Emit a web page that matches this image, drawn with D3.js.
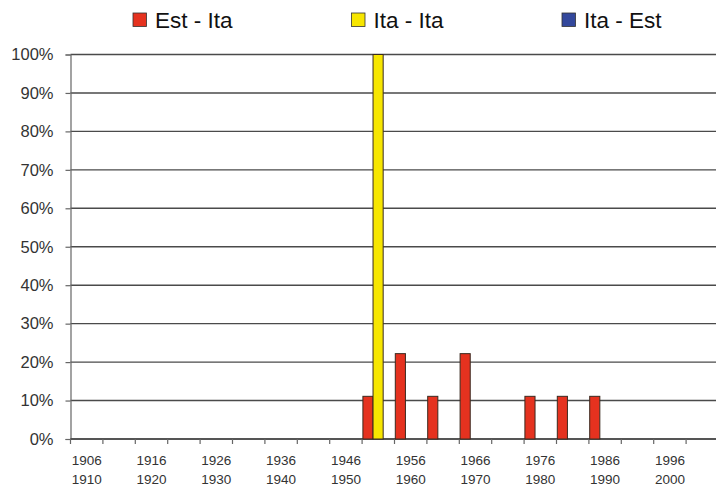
<!DOCTYPE html>
<html>
<head>
<meta charset="utf-8">
<script src="https://cdn.jsdelivr.net/npm/d3@7"></script>
<style>
  html, body { margin: 0; padding: 0; background: #fff; }
  svg { display: block; }
  text { font-family: "Liberation Sans", Arial, sans-serif; }
</style>
</head>
<body>
<script>
// ---- data ----
const startYears = [1906,1911,1916,1921,1926,1931,1936,1941,1946,1951,1956,1961,1966,1971,1976,1981,1986,1991,1996,2001];
const endYears   = [1910,1915,1920,1925,1930,1935,1940,1945,1950,1955,1960,1965,1970,1975,1980,1985,1990,1995,2000,2005];
const categories = startYears.map((s, i) => s + "-" + endYears[i]);
const seriesNames = ["Est - Ita", "Ita - Ita", "Ita - Est"];
const estIta = [0,0,0,0,0,0,0,0,0,11.1,22.2,11.1,22.2,0,11.1,11.1,11.1,0,0,0];
const itaIta = [0,0,0,0,0,0,0,0,0,100,0,0,0,0,0,0,0,0,0,0];
const itaEst = [0,0,0,0,0,0,0,0,0,0,0,0,0,0,0,0,0,0,0,0];
const yTicks = [0,10,20,30,40,50,60,70,80,90,100];
const colors = ["#e5321f", "#f7e600", "#33489c"];

const W = 716, H = 487;
const svg = d3.select("body").append("svg").attr("width", W).attr("height", H);

const x0 = 70.5, x1 = 718.5, yTop = 54.5, yBot = 439;
const x = d3.scaleBand().domain(categories).range([x0, x1]).paddingInner(0).paddingOuter(0);
const xs = d3.scaleBand().domain(seriesNames).range([0.8, x.bandwidth() - 1.2]).padding(0);
const y = d3.scaleLinear().domain([0, 100]).range([yBot, yTop]);

// gridlines
svg.append("g").selectAll("line").data(yTicks).join("line")
  .attr("x1", x0).attr("x2", W)
  .attr("y1", d => y(d)).attr("y2", d => y(d))
  .attr("stroke", "#4a4a4a").attr("stroke-width", 1.4);

// y axis
const yAxis = d3.axisLeft(y).tickValues(yTicks).tickFormat(d => d + "%").tickSize(5).tickPadding(12);
const gy = svg.append("g").attr("transform", `translate(${x0},0)`).call(yAxis);
gy.select(".domain").attr("stroke", "#666").attr("stroke-width", 1.2);
gy.selectAll(".tick line").attr("stroke", "#666").attr("stroke-width", 1.2);
gy.selectAll(".tick text").attr("font-size", "16.5px").attr("fill", "#333");

// x axis with ticks at boundaries
const boundaries = categories.map(c => x(c));
const gx = svg.append("g");
gx.append("line").attr("x1", x0).attr("x2", W).attr("y1", yBot).attr("y2", yBot)
  .attr("stroke", "#4a4a4a").attr("stroke-width", 1.4);
gx.selectAll("line.t").data(boundaries).join("line").attr("class", "t")
  .attr("x1", d => d).attr("x2", d => d).attr("y1", yBot).attr("y2", yBot + 5)
  .attr("stroke", "#666").attr("stroke-width", 1.2);
const labelCats = categories.filter((c, i) => i % 2 === 0);
const lbl = gx.selectAll("text.xl").data(labelCats).join("text").attr("class", "xl")
  .attr("text-anchor", "middle").attr("font-size", "13.5px").attr("fill", "#333");
lbl.append("tspan").attr("x", d => x(d) + x.bandwidth() / 2).attr("y", 465).text(d => d.split("-")[0]);
lbl.append("tspan").attr("x", d => x(d) + x.bandwidth() / 2).attr("y", 483.5).text(d => d.split("-")[1]);

// bars
const seriesData = [estIta, itaIta, itaEst];
seriesNames.forEach((name, si) => {
  svg.append("g").selectAll("rect").data(seriesData[si].map((v, i) => ({cat: categories[i], v})).filter(d => d.v > 0))
    .join("rect")
    .attr("x", d => x(d.cat) + xs(name))
    .attr("width", xs.bandwidth())
    .attr("y", d => y(d.v))
    .attr("height", d => yBot - y(d.v))
    .attr("fill", colors[si])
    .attr("stroke", "#3a2a20").attr("stroke-width", 1);
});

// legend
const legendX = [133, 351.5, 562];
const lg = svg.append("g");
seriesNames.forEach((name, i) => {
  lg.append("rect").attr("x", legendX[i]).attr("y", 13).attr("width", 13.5).attr("height", 13.5)
    .attr("fill", colors[i]).attr("stroke", "#333").attr("stroke-width", 0.8);
  lg.append("text").attr("x", legendX[i] + 22).attr("y", 27.5)
    .attr("font-size", "22.5px").attr("fill", "#111").text(name);
});
</script>
</body>
</html>
